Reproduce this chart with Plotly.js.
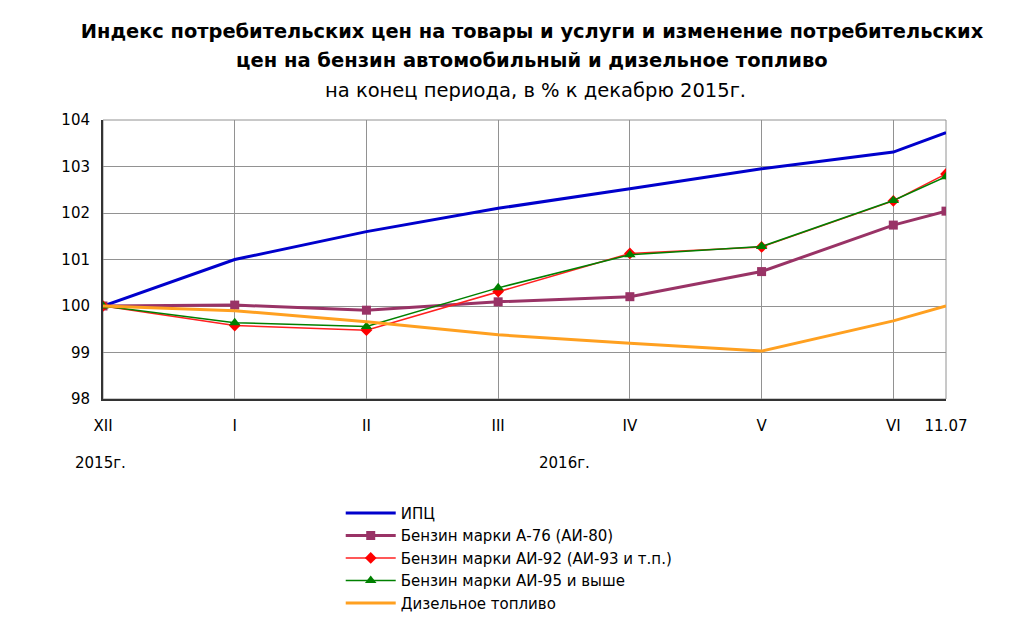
<!DOCTYPE html>
<html>
<head>
<meta charset="utf-8">
<script src="https://cdn.plot.ly/plotly-3.0.1.min.js"></script>
<style>html,body{margin:0;padding:0;background:#fff;}#chart{width:1024px;height:638px;}</style>
</head>
<body>
<div id="chart"></div>
<script>
// Positions of months on x axis (XII 2015 = 0 ... VI 2016 = 6, 11 July ≈ 6.4)
var xPos = [0, 1, 2, 3, 4, 5, 6, 6.4];
var tickLabels = ["XII", "I", "II", "III", "IV", "V", "VI", "11.07"];

var cpi   = [100.0, 101.0, 101.6, 102.1, 102.52, 102.95, 103.31, 103.73];
var a76   = [100.0, 100.02, 99.91, 100.09, 100.2, 100.74, 101.74, 102.04];
var ai92  = [100.0, 99.58, 99.48, 100.31, 101.13, 101.27, 102.26, 102.84];
var ai95  = [100.0, 99.64, 99.56, 100.39, 101.1, 101.28, 102.27, 102.78];
var diesel= [100.0, 99.9, 99.66, 99.38, 99.2, 99.03, 99.68, 100.0];

var names = ["ИПЦ", "Бензин марки А-76 (АИ-80)", "Бензин марки АИ-92 (АИ-93 и т.п.)", "Бензин марки АИ-95 и выше", "Дизельное топливо"];

var titleLine1 = "Индекс потребительских цен на товары и услуги и изменение потребительских";
var titleLine2 = "цен на бензин автомобильный и дизельное топливо";
var subtitle = "на конец периода, в % к декабрю 2015г.";

var FONT = "DejaVu Sans, Liberation Sans, Arial, sans-serif";

var traces = [
  {x: xPos, y: cpi, name: names[0], mode: "lines", line: {color: "#0000CC", width: 3}},
  {x: xPos, y: a76, name: names[1], mode: "lines+markers", line: {color: "#993366", width: 3},
   marker: {symbol: "square", size: 9, color: "#993366"}},
  {x: xPos, y: ai92, name: names[2], mode: "lines+markers", line: {color: "#FF2020", width: 1.5},
   marker: {symbol: "diamond", size: 9, color: "#FF0000"}},
  {x: xPos, y: ai95, name: names[3], mode: "lines+markers", line: {color: "#008000", width: 1.5},
   marker: {symbol: "triangle-up", size: 10, color: "#008000"}},
  {x: xPos, y: diesel, name: names[4], mode: "lines", line: {color: "#FFA020", width: 3}}
];

var layout = {
  width: 1024, height: 638,
  paper_bgcolor: "#ffffff", plot_bgcolor: "#ffffff",
  margin: {l: 103, r: 78, t: 120, b: 239},
  font: {family: FONT, size: 15, color: "#000"},
  title: {
    text: "<b>" + titleLine1 + "</b>",
    font: {family: FONT, size: 19.4, color: "#000"},
    x: 0.5195, xanchor: "center", xref: "container",
    y: 0.951, yanchor: "middle", yref: "container"
  },
  xaxis: {
    range: [0, 6.4], tickvals: xPos, ticktext: tickLabels,
    showgrid: true, gridcolor: "#929292", gridwidth: 1,
    showline: true, linecolor: "#333333", linewidth: 2,
    ticks: "outside", ticklen: 12, tickcolor: "rgba(0,0,0,0)",
    tickfont: {size: 15}, zeroline: false, fixedrange: true
  },
  yaxis: {
    range: [98, 104], dtick: 1, tick0: 98,
    showgrid: true, gridcolor: "#929292", gridwidth: 1,
    showline: true, linecolor: "#333333", linewidth: 2,
    ticks: "outside", ticklen: 8, tickcolor: "rgba(0,0,0,0)",
    tickfont: {size: 15}, zeroline: false, fixedrange: true
  },
  shapes: [
    {type: "rect", xref: "paper", yref: "paper", x0: 0, x1: 1, y0: 0, y1: 1,
     line: {color: "#929292", width: 1}, layer: "below"}
  ],
  annotations: [
    {text: "<b>" + titleLine2 + "</b>", xref: "paper", yref: "paper", x: 0.509, y: 1.215,
     xanchor: "center", yanchor: "middle", showarrow: false, font: {size: 19.5}},
    {text: subtitle, xref: "paper", yref: "paper", x: 0.5125, y: 1.1075,
     xanchor: "center", yanchor: "middle", showarrow: false, font: {size: 19.5}},
    {text: "2015г.", xref: "paper", yref: "paper", x: -0.003, y: -0.229, xanchor: "center", yanchor: "middle", showarrow: false, font: {size: 15}},
    {text: "2016г.", xref: "x", yref: "paper", x: 3.5, y: -0.229, xanchor: "center", yanchor: "middle", showarrow: false, font: {size: 15}}
  ],
  legend: {
    x: 0.282, xanchor: "left", y: -0.35, yanchor: "top", itemwidth: 50,
    font: {size: 15}, bgcolor: "rgba(0,0,0,0)", tracegroupgap: 0
  },
  showlegend: true
};

Plotly.newPlot("chart", traces, layout, {displayModeBar: false, staticPlot: true});
</script>
</body>
</html>
